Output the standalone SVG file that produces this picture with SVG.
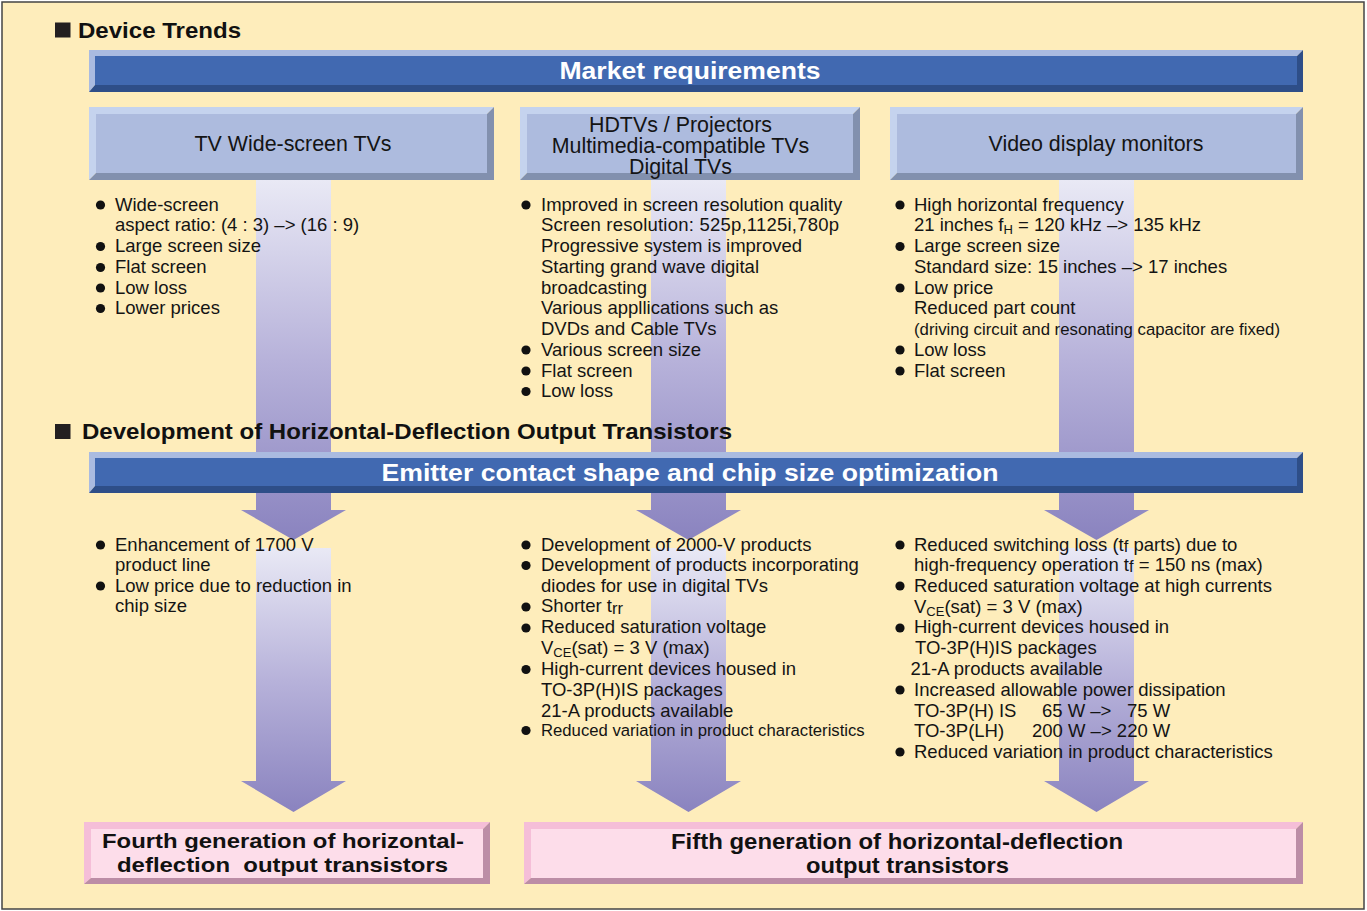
<svg xmlns="http://www.w3.org/2000/svg" width="1367" height="911" viewBox="0 0 1367 911">
<style>
.t{font-family:"Liberation Sans",Arial,sans-serif;font-size:18.5px;fill:#141414}
.s{font-size:16.7px}
.sub{font-size:13px}
.b{font-family:"Liberation Sans",Arial,sans-serif;font-weight:bold;fill:#111}
.w{font-family:"Liberation Sans",Arial,sans-serif;font-weight:bold;fill:#fff;font-size:24px}
.bx{font-family:"Liberation Sans",Arial,sans-serif;font-size:21.4px;fill:#141414}
.lb{fill:#AABBE0}.db{fill:#2E4E88}.fb{fill:#4169B1}
.lc{fill:#C5D3EE}.dc{fill:#8290AE}.fc{fill:#ADBBDE}
.lp{fill:#F5BED8}.dp{fill:#BC8DA6}.fp{fill:#FDDDEA}
.dot{fill:#111}
.arr{fill:url(#ag)}
</style>
<defs>
<linearGradient id="ag" x1="0" y1="0" x2="0" y2="1">
<stop offset="0" stop-color="#E9E9F5"/>
<stop offset="0.5" stop-color="#B7B2DA"/>
<stop offset="1" stop-color="#8A83BF"/>
</linearGradient>
</defs>
<rect x="2" y="2" width="1362" height="907" fill="#FEEDBB" stroke="#444" stroke-width="1.5"/>

<g id="connectors">
<path class="arr" d="M256,180H331V510H346L293.5,540L241,510H256Z"/>
<path class="arr" d="M256,548H331V781H346L293.5,812L241,781H256Z"/>
<path class="arr" d="M651,180H726V510H741L688.5,540L636,510H651Z"/>
<path class="arr" d="M651,548H726V781H741L688.5,812L636,781H651Z"/>
<path class="arr" d="M1059,180H1134V510H1149L1096.5,540L1044,510H1059Z"/>
<path class="arr" d="M1059,548H1134V781H1149L1096.5,812L1044,781H1059Z"/>
</g>

<g id="heading-device-trends">
<rect x="55" y="22.5" width="15.5" height="15" fill="#231F20"/>
<text class="b" x="78" y="38" font-size="22" textLength="163" lengthAdjust="spacingAndGlyphs">Device Trends</text>
</g>

<g id="market-requirements">
<polygon class="lb" points="89,50 1303,50 1297,56 95,56 95,85 89,92"/>
<polygon class="db" points="1303,50 1303,92 89,92 95,85 1297,85 1297,56"/>
<rect class="fb" x="95" y="56" width="1202" height="29"/>
<text class="w" x="690" y="79" text-anchor="middle" textLength="261" lengthAdjust="spacingAndGlyphs">Market requirements</text>
</g>

<g id="box-tv">
<polygon class="lc" points="89,107 494,107 487,114 96,114 96,173 89,180"/>
<polygon class="dc" points="494,107 494,180 89,180 96,173 487,173 487,114"/>
<rect class="fc" x="96" y="114" width="391" height="59"/>
<text class="bx" x="293" y="150.7" text-anchor="middle" font-size="19.6">TV Wide-screen TVs</text>
</g>

<g id="box-hdtv">
<polygon class="lc" points="520,107 860,107 853,114 527,114 527,173 520,180"/>
<polygon class="dc" points="860,107 860,180 520,180 527,173 853,173 853,114"/>
<rect class="fc" x="527" y="114" width="326" height="59"/>
<text class="bx" x="680.5" y="131.7" text-anchor="middle">HDTVs / Projectors</text>
<text class="bx" x="680.5" y="153.3" text-anchor="middle">Multimedia-compatible TVs</text>
<text class="bx" x="680.5" y="174" text-anchor="middle">Digital TVs</text>
</g>

<g id="box-video">
<polygon class="lc" points="890,107 1303,107 1296,114 897,114 897,173 890,180"/>
<polygon class="dc" points="1303,107 1303,180 890,180 897,173 1296,173 1296,114"/>
<rect class="fc" x="897" y="114" width="399" height="59"/>
<text class="bx" x="1096" y="150.7" text-anchor="middle">Video display monitors</text>
</g>

<g id="list-tv">
<circle class="dot" cx="100.5" cy="205" r="4.6"/>
<circle class="dot" cx="100.5" cy="246.5" r="4.6"/>
<circle class="dot" cx="100.5" cy="267.5" r="4.6"/>
<circle class="dot" cx="100.5" cy="288" r="4.6"/>
<circle class="dot" cx="100.5" cy="308.5" r="4.6"/>
<text class="t" x="115" y="210.7">Wide-screen</text>
<text class="t" x="115" y="231">aspect ratio: (4 : 3) –&gt; (16 : 9)</text>
<text class="t" x="115" y="252">Large screen size</text>
<text class="t" x="115" y="273">Flat screen</text>
<text class="t" x="115" y="293.5">Low loss</text>
<text class="t" x="115" y="314">Lower prices</text>
</g>

<g id="list-hdtv">
<circle class="dot" cx="526" cy="205" r="4.6"/>
<circle class="dot" cx="526" cy="350" r="4.6"/>
<circle class="dot" cx="526" cy="371" r="4.6"/>
<circle class="dot" cx="526" cy="391.5" r="4.6"/>
<text class="t" x="541" y="210.7">Improved in screen resolution quality</text>
<text class="t" x="541" y="231" textLength="298" lengthAdjust="spacing">Screen resolution: 525p,1125i,780p</text>
<text class="t" x="541" y="252">Progressive system is improved</text>
<text class="t" x="541" y="273">Starting grand wave digital</text>
<text class="t" x="541" y="293.5">broadcasting</text>
<text class="t" x="541" y="314">Various appllications such as</text>
<text class="t" x="541" y="335">DVDs and Cable TVs</text>
<text class="t" x="541" y="355.7">Various screen size</text>
<text class="t" x="541" y="376.5">Flat screen</text>
<text class="t" x="541" y="397">Low loss</text>
</g>

<g id="list-video">
<circle class="dot" cx="900" cy="205" r="4.6"/>
<circle class="dot" cx="900" cy="246.5" r="4.6"/>
<circle class="dot" cx="900" cy="288" r="4.6"/>
<circle class="dot" cx="900" cy="350" r="4.6"/>
<circle class="dot" cx="900" cy="371" r="4.6"/>
<text class="t" x="914" y="210.7">High horizontal frequency</text>
<text class="t" x="914" y="231">21 inches f<tspan class="sub" dy="3">H</tspan><tspan dy="-3"> = 120 kHz –&gt; 135 kHz</tspan></text>
<text class="t" x="914" y="252">Large screen size</text>
<text class="t" x="914" y="273">Standard size: 15 inches –&gt; 17 inches</text>
<text class="t" x="914" y="293.5">Low price</text>
<text class="t" x="914" y="314">Reduced part count</text>
<text class="t s" x="914" y="335" textLength="366" lengthAdjust="spacingAndGlyphs">(driving circuit and resonating capacitor are fixed)</text>
<text class="t" x="914" y="355.7">Low loss</text>
<text class="t" x="914" y="376.5">Flat screen</text>
</g>

<g id="heading-development">
<rect x="55" y="424" width="15.5" height="15" fill="#231F20"/>
<text class="b" x="82" y="439" font-size="22" textLength="650" lengthAdjust="spacingAndGlyphs">Development of Horizontal-Deflection Output Transistors</text>
</g>

<g id="emitter-bar">
<polygon class="lb" points="89,452 1303,452 1297,458 95,458 95,486 89,493"/>
<polygon class="db" points="1303,452 1303,493 89,493 95,486 1297,486 1297,458"/>
<rect class="fb" x="95" y="458" width="1202" height="28"/>
<text class="w" x="690" y="481" text-anchor="middle" textLength="617" lengthAdjust="spacingAndGlyphs">Emitter contact shape and chip size optimization</text>
</g>

<g id="list-gen4">
<circle class="dot" cx="100.5" cy="545" r="4.6"/>
<circle class="dot" cx="100.5" cy="586" r="4.6"/>
<text class="t" x="115" y="550.5">Enhancement of 1700 V</text>
<text class="t" x="115" y="571">product line</text>
<text class="t" x="115" y="591.5">Low price due to reduction in</text>
<text class="t" x="115" y="612.3">chip size</text>
</g>

<g id="list-gen5a">
<circle class="dot" cx="526" cy="545" r="4.6"/>
<circle class="dot" cx="526" cy="565.5" r="4.6"/>
<circle class="dot" cx="526" cy="607" r="4.6"/>
<circle class="dot" cx="526" cy="628" r="4.6"/>
<circle class="dot" cx="526" cy="669.5" r="4.6"/>
<circle class="dot" cx="526" cy="730.5" r="4.6"/>
<text class="t" x="541" y="550.5">Development of 2000-V products</text>
<text class="t" x="541" y="571">Development of products incorporating</text>
<text class="t" x="541" y="591.7">diodes for use in digital TVs</text>
<text class="t" x="541" y="612.3">Shorter t<tspan font-size="16.5" dy="1.5">rr</tspan></text>
<text class="t" x="541" y="633.3">Reduced saturation voltage</text>
<text class="t" x="541" y="654">V<tspan class="sub" dy="3">CE</tspan><tspan dy="-3">(sat) = 3 V (max)</tspan></text>
<text class="t" x="541" y="675">High-current devices housed in</text>
<text class="t" x="541" y="695.7">TO-3P(H)IS packages</text>
<text class="t" x="541" y="716.7">21-A products available</text>
<text class="t s" x="541" y="735.5">Reduced variation in product characteristics</text>
</g>

<g id="list-gen5b">
<circle class="dot" cx="900" cy="545" r="4.6"/>
<circle class="dot" cx="900" cy="586" r="4.6"/>
<circle class="dot" cx="900" cy="628" r="4.6"/>
<circle class="dot" cx="900" cy="690" r="4.6"/>
<circle class="dot" cx="900" cy="752" r="4.6"/>
<text class="t" x="914" y="550.7">Reduced switching loss (t<tspan font-size="16.5" dy="1.5">f</tspan><tspan dy="-1.5"> parts) due to</tspan></text>
<text class="t" x="914" y="570.7">high-frequency operation t<tspan font-size="16.5" dy="1.5">f</tspan><tspan dy="-1.5"> = 150 ns (max)</tspan></text>
<text class="t" x="914" y="591.7">Reduced saturation voltage at high currents</text>
<text class="t" x="914" y="612.7">V<tspan class="sub" dy="3">CE</tspan><tspan dy="-3">(sat) = 3 V (max)</tspan></text>
<text class="t" x="914" y="633.3">High-current devices housed in</text>
<text class="t" x="915" y="654">TO-3P(H)IS packages</text>
<text class="t" x="910.5" y="675">21-A products available</text>
<text class="t" x="914" y="695.7">Increased allowable power dissipation</text>
<text class="t" x="914" y="716.7">TO-3P(H) IS</text>
<text class="t" x="1042" y="716.7">65 W –&gt;</text>
<text class="t" x="1127" y="716.7">75 W</text>
<text class="t" x="914" y="736.7">TO-3P(LH)</text>
<text class="t" x="1032" y="736.7">200 W –&gt; 220 W</text>
<text class="t" x="914" y="757.7">Reduced variation in product characteristics</text>
</g>

<g id="box-gen4">
<polygon class="lp" points="84,822 490,822 483,829 91,829 91,878 84,884"/>
<polygon class="dp" points="490,822 490,884 84,884 91,878 483,878 483,829"/>
<rect class="fp" x="91" y="829" width="392" height="49"/>
<text class="b" x="283" y="847.5" font-size="21" text-anchor="middle" textLength="362" lengthAdjust="spacingAndGlyphs">Fourth generation of horizontal-</text>
<text class="b" x="282.5" y="871.7" font-size="21" text-anchor="middle" textLength="331" lengthAdjust="spacingAndGlyphs">deflection&#160; output transistors</text>
</g>

<g id="box-gen5">
<polygon class="lp" points="524,822 1303,822 1296,829 531,829 531,878 524,884"/>
<polygon class="dp" points="1303,822 1303,884 524,884 531,878 1296,878 1296,829"/>
<rect class="fp" x="531" y="829" width="765" height="49"/>
<text class="b" x="897" y="849" font-size="22" text-anchor="middle" textLength="452" lengthAdjust="spacingAndGlyphs">Fifth generation of horizontal-deflection</text>
<text class="b" x="907.5" y="873" font-size="22" text-anchor="middle" textLength="203" lengthAdjust="spacingAndGlyphs">output transistors</text>
</g>
</svg>
